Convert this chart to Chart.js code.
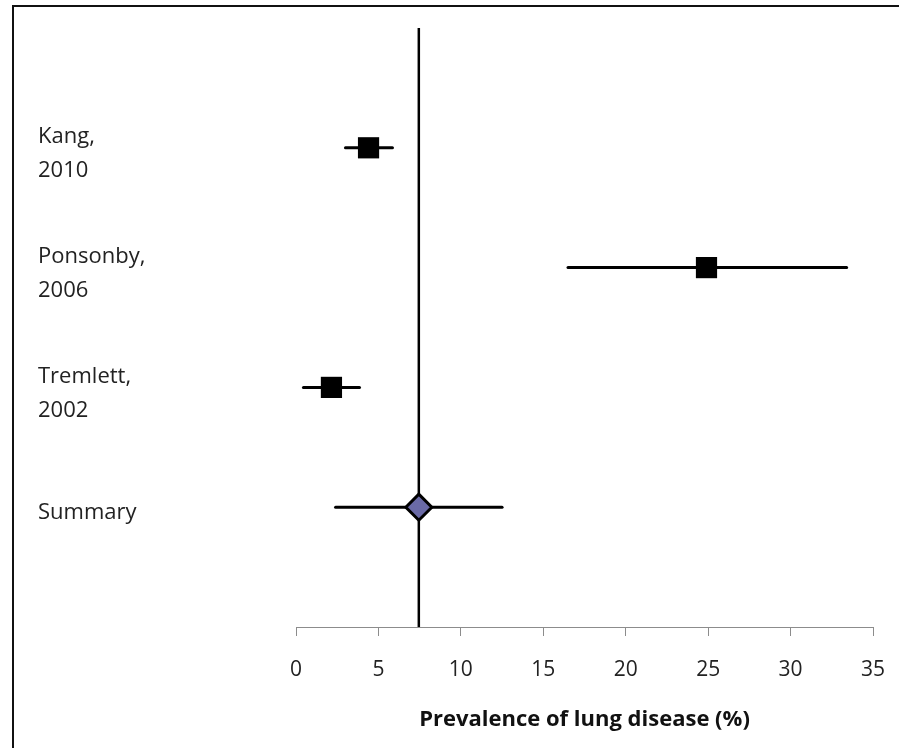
<!DOCTYPE html>
<html>
<head>
<meta charset="utf-8">
<script src="https://cdn.jsdelivr.net/npm/chart.js@4.4.1/dist/chart.umd.min.js"></script>
<style>
  html, body { margin: 0; padding: 0; background: #fff; overflow: hidden; }
  #wrap { position: relative; width: 899px; height: 748px; }
  #frame {
    position: absolute; left: 12px; top: 5px; width: 900px; height: 760px;
    border-left: 2px solid #111; border-top: 2px solid #111; pointer-events: none;
  }
</style>
</head>
<body>
<div id="wrap">
  <canvas id="chart"></canvas>
  <div id="frame"></div>
</div>
<script>
// study rows, top to bottom
const studyLabels = [['Kang,', '2010'], ['Ponsonby,', '2006'], ['Tremlett,', '2002'], ['Summary']];
const rowPos = [4, 3, 2, 1];
const estimates = [4.4, 24.9, 2.15, 7.45];
const lowerCI = [3.0, 16.5, 0.45, 2.4];
const upperCI = [5.85, 33.4, 3.85, 12.5];
const xTicks = [0, 5, 10, 15, 20, 25, 30, 35];
const summaryValue = 7.45;

const nStudies = 3;

const ciSets = rowPos.map((y, i) => ({
    type: 'scatter',
    showLine: true,
    data: [{x: lowerCI[i], y: y}, {x: upperCI[i], y: y}],
    borderColor: '#000',
    borderWidth: 3,
    borderCapStyle: 'round',
    pointRadius: 0,
    order: 1
}));

const datasets = [
    {
        // study point estimates
        type: 'scatter',
        data: rowPos.slice(0, nStudies).map((y, i) => ({x: estimates[i], y: y})),
        pointStyle: 'rect',
        pointRadius: 15,
        pointHoverRadius: 15,
        backgroundColor: '#000',
        borderColor: '#000',
        borderWidth: 0,
        order: 0
    },
    {
        // summary diamond
        type: 'scatter',
        data: [{x: estimates[3], y: rowPos[3]}],
        pointStyle: 'rectRot',
        pointRadius: 13,
        pointHoverRadius: 13,
        backgroundColor: '#6a6aa6',
        borderColor: '#000',
        borderWidth: 3,
        order: 0
    },
    ...ciSets,
    {
        // vertical reference line at the summary estimate
        type: 'scatter',
        showLine: true,
        data: [{x: summaryValue, y: 0}, {x: summaryValue, y: 5}],
        borderColor: '#000',
        borderWidth: 2.5,
        pointRadius: 0,
        order: 2
    }
];

const ctx = document.getElementById('chart').getContext('2d');
new Chart(ctx, {
    type: 'scatter',
    data: { datasets: datasets },
    options: {
        responsive: true,
        maintainAspectRatio: false,
        animation: false,
        layout: { padding: { left: 38, top: 28, right: 26, bottom: 0 } },
        plugins: {
            legend: { display: false },
            tooltip: { enabled: false }
        },
        scales: {
            x: {
                type: 'linear',
                min: 0,
                max: 35,
                afterBuildTicks: scale => { scale.ticks = xTicks.map(v => ({value: v})); },
                afterFit: scale => {
                    scale.height = 121;
                    scale.paddingRight = 0; // keep the plot right edge where the padding puts it
                },
                grid: { drawOnChartArea: false, drawTicks: true, tickLength: 9, color: '#8c8c8c', lineWidth: 1 },
                border: { display: true, color: '#8c8c8c', width: 1 },
                ticks: {
                    color: '#222',
                    padding: 21,
                    font: { family: 'Open Sans', size: 21 }
                },
                title: {
                    display: true,
                    text: 'Prevalence of lung disease (%)',
                    color: '#111',
                    font: { family: 'Open Sans', size: 22, weight: 'bold' },
                    padding: { top: 0, bottom: 15 }
                }
            },
            y: {
                type: 'linear',
                min: 0,
                max: 5,
                afterBuildTicks: scale => { scale.ticks = rowPos.map(v => ({value: v})); },
                afterFit: scale => { scale.width = 296 - 38; },
                grid: { display: false },
                border: { display: false },
                ticks: {
                    crossAlign: 'far',
                    labelOffset: 6,
                    color: '#222',
                    font: { family: 'Open Sans', size: 22, lineHeight: 1.55 },
                    callback: value => {
                        const i = rowPos.indexOf(value);
                        return i >= 0 ? studyLabels[i] : '';
                    }
                }
            }
        }
    }
});
</script>
</body>
</html>
